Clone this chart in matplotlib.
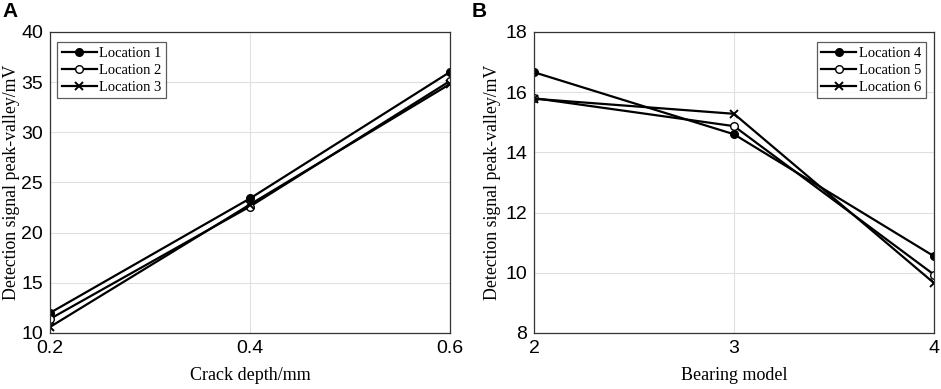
import matplotlib
matplotlib.use("Agg")
import matplotlib.pyplot as plt

# --- Data ----------------------------------------------------------------
crack_depth = [0.2, 0.4, 0.6]
loc1 = [12.0, 23.4, 36.0]
loc2 = [11.4, 22.6, 35.1]
loc3 = [10.6, 22.8, 34.8]

bearing_model = [2, 3, 4]
loc4 = [16.66, 14.6, 10.55]
loc5 = [15.8, 14.87, 9.94]
loc6 = [15.78, 15.28, 9.66]

SERIF = "Liberation Serif"
SANS = "Liberation Sans"


def style_axes(ax):
    ax.grid(True, color="#e0e0e0", linewidth=0.8)
    ax.set_axisbelow(True)
    for s in ax.spines.values():
        s.set_color("#333333")
        s.set_linewidth(0.9)
    ax.tick_params(direction="in", length=0, labelsize=14, pad=5)
    for lab in ax.get_xticklabels() + ax.get_yticklabels():
        lab.set_fontfamily(SANS)


def draw_series(ax, x, ys, labels):
    markers = [dict(marker="o", mfc="black", mec="black", ms=5.5),
               dict(marker="o", mfc="white", mec="black", ms=5.5, mew=1.0),
               dict(marker="x", mec="black", ms=5.5, mew=1.4)]
    for y, lab, m in zip(ys, labels, markers):
        ax.plot(x, y, color="black", linewidth=1.6, label=lab, **m)


fig = plt.figure(figsize=(9.41, 3.89), dpi=100)

# Panel A
axA = fig.add_axes([0.0531, 0.144, 0.425, 0.774])
draw_series(axA, crack_depth, [loc1, loc2, loc3],
            ["Location 1", "Location 2", "Location 3"])
axA.set_xlim(0.2, 0.6)
axA.set_ylim(10, 40)
axA.set_xticks([0.2, 0.4, 0.6])
axA.set_xticklabels(["0.2", "0.4", "0.6"])
axA.set_yticks(range(10, 41, 5))
style_axes(axA)
axA.set_xlabel("Crack depth/mm", fontfamily=SERIF, fontsize=13, labelpad=7)
axA.set_ylabel("Detection signal peak-valley/mV", fontfamily=SERIF,
               fontsize=12.8, labelpad=1)
legA = axA.legend(loc="upper left", bbox_to_anchor=(0.018, 0.965),
                  prop={"family": SERIF, "size": 10.5}, frameon=True,
                  fancybox=False, edgecolor="#333333", handlelength=2.4,
                  handletextpad=0.2, borderpad=0.3, labelspacing=0.25,
                  borderaxespad=0)
legA.get_frame().set_linewidth(0.9)

# Panel B
axB = fig.add_axes([0.5675, 0.144, 0.425, 0.774])
draw_series(axB, bearing_model, [loc4, loc5, loc6],
            ["Location 4", "Location 5", "Location 6"])
axB.set_xlim(2, 4)
axB.set_ylim(8, 18)
axB.set_xticks([2, 3, 4])
axB.set_yticks(range(8, 19, 2))
style_axes(axB)
axB.set_xlabel("Bearing model", fontfamily=SERIF, fontsize=13, labelpad=7)
axB.set_ylabel("Detection signal peak-valley/mV", fontfamily=SERIF,
               fontsize=12.8, labelpad=3)
legB = axB.legend(loc="upper right", bbox_to_anchor=(0.98, 0.965),
                  prop={"family": SERIF, "size": 10.5}, frameon=True,
                  fancybox=False, edgecolor="#333333", handlelength=2.4,
                  handletextpad=0.2, borderpad=0.3, labelspacing=0.25,
                  borderaxespad=0)
legB.get_frame().set_linewidth(0.9)

fig.text(0.003, 0.995, "A", fontfamily=SANS, fontweight="bold",
         fontsize=15, va="top", ha="left")
fig.text(0.5015, 0.995, "B", fontfamily=SANS, fontweight="bold",
         fontsize=15, va="top", ha="left")

fig.savefig("out.png", dpi=100)
